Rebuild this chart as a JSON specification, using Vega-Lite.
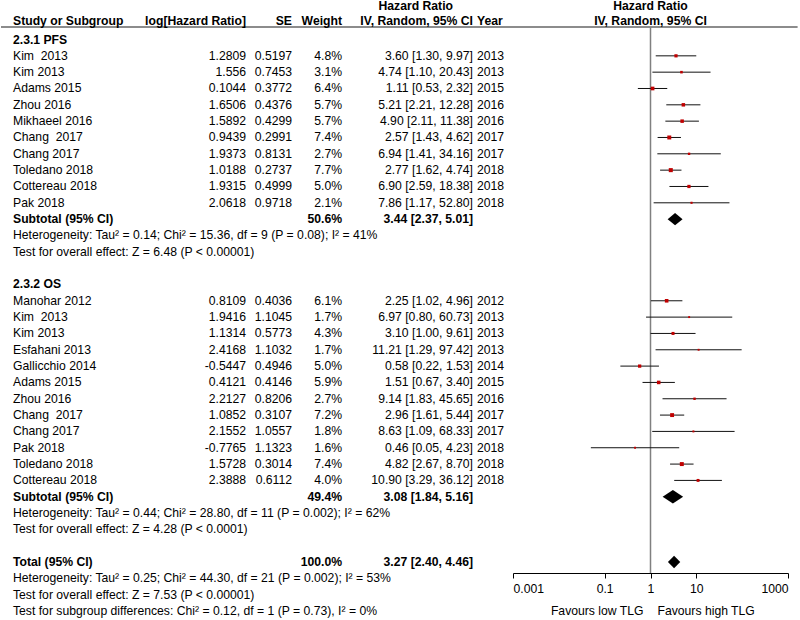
{
  "$schema": "https://vega.github.io/schema/vega-lite/v6.json",
  "background": "white",
  "padding": 0,
  "bounds": "flush",
  "spacing": 0,
  "config": {
    "view": {"stroke": null},
    "font": "Liberation Sans",
    "text": {"font": "Liberation Sans", "fontSize": 12.2, "color": "#000", "baseline": "middle"},
    "concat": {"spacing": 0}
  },
  "resolve": {"scale": {"x": "independent", "y": "independent"}},
  "datasets": {
    "rows": [
      {"row": 0, "kind": "group", "label": "2.3.1 PFS"},
      {"row": 1, "kind": "study", "label": "Kim \u00a02013", "loghr": 1.2809, "se": 0.5197, "weight": 0.048, "hr": 3.60, "lo": 1.30, "hi": 9.97, "ci": "3.60 [1.30, 9.97]", "year": 2013},
      {"row": 2, "kind": "study", "label": "Kim 2013", "loghr": 1.556, "se": 0.7453, "weight": 0.031, "hr": 4.74, "lo": 1.10, "hi": 20.43, "ci": "4.74 [1.10, 20.43]", "year": 2013},
      {"row": 3, "kind": "study", "label": "Adams 2015", "loghr": 0.1044, "se": 0.3772, "weight": 0.064, "hr": 1.11, "lo": 0.53, "hi": 2.32, "ci": "1.11 [0.53, 2.32]", "year": 2015},
      {"row": 4, "kind": "study", "label": "Zhou 2016", "loghr": 1.6506, "se": 0.4376, "weight": 0.057, "hr": 5.21, "lo": 2.21, "hi": 12.28, "ci": "5.21 [2.21, 12.28]", "year": 2016},
      {"row": 5, "kind": "study", "label": "Mikhaeel 2016", "loghr": 1.5892, "se": 0.4299, "weight": 0.057, "hr": 4.90, "lo": 2.11, "hi": 11.38, "ci": "4.90 [2.11, 11.38]", "year": 2016},
      {"row": 6, "kind": "study", "label": "Chang \u00a02017", "loghr": 0.9439, "se": 0.2991, "weight": 0.074, "hr": 2.57, "lo": 1.43, "hi": 4.62, "ci": "2.57 [1.43, 4.62]", "year": 2017},
      {"row": 7, "kind": "study", "label": "Chang 2017", "loghr": 1.9373, "se": 0.8131, "weight": 0.027, "hr": 6.94, "lo": 1.41, "hi": 34.16, "ci": "6.94 [1.41, 34.16]", "year": 2017},
      {"row": 8, "kind": "study", "label": "Toledano 2018", "loghr": 1.0188, "se": 0.2737, "weight": 0.077, "hr": 2.77, "lo": 1.62, "hi": 4.74, "ci": "2.77 [1.62, 4.74]", "year": 2018},
      {"row": 9, "kind": "study", "label": "Cottereau 2018", "loghr": 1.9315, "se": 0.4999, "weight": 0.050, "hr": 6.90, "lo": 2.59, "hi": 18.38, "ci": "6.90 [2.59, 18.38]", "year": 2018},
      {"row": 10, "kind": "study", "label": "Pak 2018", "loghr": 2.0618, "se": 0.9718, "weight": 0.021, "hr": 7.86, "lo": 1.17, "hi": 52.80, "ci": "7.86 [1.17, 52.80]", "year": 2018},
      {"row": 11, "kind": "subtotal", "label": "Subtotal (95% CI)", "weight": 0.506, "hr": 3.44, "lo": 2.37, "hi": 5.01, "ci": "3.44 [2.37, 5.01]"},
      {"row": 12, "kind": "note", "label": "Heterogeneity: Tau² = 0.14; Chi² = 15.36, df = 9 (P = 0.08); I² = 41%"},
      {"row": 13, "kind": "note", "label": "Test for overall effect: Z = 6.48 (P < 0.00001)"},
      {"row": 15, "kind": "group", "label": "2.3.2 OS"},
      {"row": 16, "kind": "study", "label": "Manohar 2012", "loghr": 0.8109, "se": 0.4036, "weight": 0.061, "hr": 2.25, "lo": 1.02, "hi": 4.96, "ci": "2.25 [1.02, 4.96]", "year": 2012},
      {"row": 17, "kind": "study", "label": "Kim \u00a02013", "loghr": 1.9416, "se": 1.1045, "weight": 0.017, "hr": 6.97, "lo": 0.80, "hi": 60.73, "ci": "6.97 [0.80, 60.73]", "year": 2013},
      {"row": 18, "kind": "study", "label": "Kim 2013", "loghr": 1.1314, "se": 0.5773, "weight": 0.043, "hr": 3.10, "lo": 1.00, "hi": 9.61, "ci": "3.10 [1.00, 9.61]", "year": 2013},
      {"row": 19, "kind": "study", "label": "Esfahani 2013", "loghr": 2.4168, "se": 1.1032, "weight": 0.017, "hr": 11.21, "lo": 1.29, "hi": 97.42, "ci": "11.21 [1.29, 97.42]", "year": 2013},
      {"row": 20, "kind": "study", "label": "Gallicchio 2014", "loghr": -0.5447, "se": 0.4946, "weight": 0.050, "hr": 0.58, "lo": 0.22, "hi": 1.53, "ci": "0.58 [0.22, 1.53]", "year": 2014},
      {"row": 21, "kind": "study", "label": "Adams 2015", "loghr": 0.4121, "se": 0.4146, "weight": 0.059, "hr": 1.51, "lo": 0.67, "hi": 3.40, "ci": "1.51 [0.67, 3.40]", "year": 2015},
      {"row": 22, "kind": "study", "label": "Zhou 2016", "loghr": 2.2127, "se": 0.8206, "weight": 0.027, "hr": 9.14, "lo": 1.83, "hi": 45.65, "ci": "9.14 [1.83, 45.65]", "year": 2016},
      {"row": 23, "kind": "study", "label": "Chang \u00a02017", "loghr": 1.0852, "se": 0.3107, "weight": 0.072, "hr": 2.96, "lo": 1.61, "hi": 5.44, "ci": "2.96 [1.61, 5.44]", "year": 2017},
      {"row": 24, "kind": "study", "label": "Chang 2017", "loghr": 2.1552, "se": 1.0557, "weight": 0.018, "hr": 8.63, "lo": 1.09, "hi": 68.33, "ci": "8.63 [1.09, 68.33]", "year": 2017},
      {"row": 25, "kind": "study", "label": "Pak 2018", "loghr": -0.7765, "se": 1.1323, "weight": 0.016, "hr": 0.46, "lo": 0.05, "hi": 4.23, "ci": "0.46 [0.05, 4.23]", "year": 2018},
      {"row": 26, "kind": "study", "label": "Toledano 2018", "loghr": 1.5728, "se": 0.3014, "weight": 0.074, "hr": 4.82, "lo": 2.67, "hi": 8.70, "ci": "4.82 [2.67, 8.70]", "year": 2018},
      {"row": 27, "kind": "study", "label": "Cottereau 2018", "loghr": 2.3888, "se": 0.6112, "weight": 0.040, "hr": 10.90, "lo": 3.29, "hi": 36.12, "ci": "10.90 [3.29, 36.12]", "year": 2018},
      {"row": 28, "kind": "subtotal", "label": "Subtotal (95% CI)", "weight": 0.494, "hr": 3.08, "lo": 1.84, "hi": 5.16, "ci": "3.08 [1.84, 5.16]"},
      {"row": 29, "kind": "note", "label": "Heterogeneity: Tau² = 0.44; Chi² = 28.80, df = 11 (P = 0.002); I² = 62%"},
      {"row": 30, "kind": "note", "label": "Test for overall effect: Z = 4.28 (P < 0.0001)"},
      {"row": 32, "kind": "subtotal", "label": "Total (95% CI)", "weight": 1.0, "hr": 3.27, "lo": 2.40, "hi": 4.46, "ci": "3.27 [2.40, 4.46]"},
      {"row": 33, "kind": "note", "label": "Heterogeneity: Tau² = 0.25; Chi² = 44.30, df = 21 (P = 0.002); I² = 53%"},
      {"row": 34, "kind": "note", "label": "Test for overall effect: Z = 7.53 (P < 0.00001)"},
      {"row": 35, "kind": "note", "label": "Test for subgroup differences: Chi² = 0.12, df = 1 (P = 0.73), I² = 0%"}
    ]
  },
  "hconcat": [
    {
      "width": 130, "height": 620,
      "data": {"name": "rows"},
      "encoding": {
        "y": {"field": "row", "type": "quantitative", "scale": {"domain": [-2.419, 35.548], "reverse": true, "nice": false, "zero": false}, "axis": null},
        "x": {"datum": 0, "type": "quantitative", "scale": {"domain": [0, 1], "nice": false, "zero": false}, "axis": null}
      },
      "layer": [
        {"transform": [{"filter": "datum.row === 0"}], "mark": {"type": "rule", "color": "#666", "strokeWidth": 1.5},
         "encoding": {"x": {"datum": 0, "type": "quantitative"}, "x2": {"datum": 1}, "y": {"datum": -0.77, "type": "quantitative"}}},
        {"transform": [{"filter": "datum.row === 0"}], "mark": {"type": "text", "align": "left", "dx": 12, "fontWeight": "bold", "text": "Study or Subgroup"},
         "encoding": {"y": {"datum": -1.13, "type": "quantitative"}}},
        {"transform": [{"filter": "datum.kind === 'study' || datum.kind === 'note'"}],
         "mark": {"type": "text", "align": "left", "dx": 12},
         "encoding": {"text": {"field": "label", "type": "nominal"}}},
        {"transform": [{"filter": "datum.kind === 'group' || datum.kind === 'subtotal'"}],
         "mark": {"type": "text", "align": "left", "dx": 12, "fontWeight": "bold"},
         "encoding": {"text": {"field": "label", "type": "nominal"}}}
      ]
    },
    {
      "width": 115, "height": 620,
      "data": {"name": "rows"},
      "encoding": {
        "y": {"field": "row", "type": "quantitative", "scale": {"domain": [-2.419, 35.548], "reverse": true, "nice": false, "zero": false}, "axis": null},
        "x": {"datum": 1, "type": "quantitative", "scale": {"domain": [0, 1], "nice": false, "zero": false}, "axis": null}
      },
      "layer": [
        {"transform": [{"filter": "datum.row === 0"}], "mark": {"type": "rule", "color": "#666", "strokeWidth": 1.5},
         "encoding": {"x": {"datum": 0, "type": "quantitative"}, "x2": {"datum": 1}, "y": {"datum": -0.77, "type": "quantitative"}}},
        {"transform": [{"filter": "datum.row === 0"}], "mark": {"type": "text", "align": "right", "fontWeight": "bold", "text": "log[Hazard Ratio]"},
         "encoding": {"y": {"datum": -1.13, "type": "quantitative"}}},
        {"transform": [{"filter": "datum.kind === 'study'"}],
         "mark": {"type": "text", "align": "right"},
         "encoding": {"text": {"field": "loghr", "type": "nominal"}}}
      ]
    },
    {
      "width": 46, "height": 620,
      "data": {"name": "rows"},
      "encoding": {
        "y": {"field": "row", "type": "quantitative", "scale": {"domain": [-2.419, 35.548], "reverse": true, "nice": false, "zero": false}, "axis": null},
        "x": {"datum": 1, "type": "quantitative", "scale": {"domain": [0, 1], "nice": false, "zero": false}, "axis": null}
      },
      "layer": [
        {"transform": [{"filter": "datum.row === 0"}], "mark": {"type": "rule", "color": "#666", "strokeWidth": 1.5},
         "encoding": {"x": {"datum": 0, "type": "quantitative"}, "x2": {"datum": 1}, "y": {"datum": -0.77, "type": "quantitative"}}},
        {"transform": [{"filter": "datum.row === 0"}], "mark": {"type": "text", "align": "right", "fontWeight": "bold", "text": "SE"},
         "encoding": {"y": {"datum": -1.13, "type": "quantitative"}}},
        {"transform": [{"filter": "datum.kind === 'study'"}],
         "mark": {"type": "text", "align": "right"},
         "encoding": {"text": {"field": "se", "type": "nominal"}}}
      ]
    },
    {
      "width": 50, "height": 620,
      "data": {"name": "rows"},
      "encoding": {
        "y": {"field": "row", "type": "quantitative", "scale": {"domain": [-2.419, 35.548], "reverse": true, "nice": false, "zero": false}, "axis": null},
        "x": {"datum": 1, "type": "quantitative", "scale": {"domain": [0, 1], "nice": false, "zero": false}, "axis": null}
      },
      "layer": [
        {"transform": [{"filter": "datum.row === 0"}], "mark": {"type": "rule", "color": "#666", "strokeWidth": 1.5},
         "encoding": {"x": {"datum": 0, "type": "quantitative"}, "x2": {"datum": 1}, "y": {"datum": -0.77, "type": "quantitative"}}},
        {"transform": [{"filter": "datum.row === 0"}], "mark": {"type": "text", "align": "right", "fontWeight": "bold", "text": "Weight"},
         "encoding": {"y": {"datum": -1.13, "type": "quantitative"}}},
        {"transform": [{"filter": "datum.kind === 'study'"}],
         "mark": {"type": "text", "align": "right"},
         "encoding": {"text": {"field": "weight", "type": "quantitative", "format": ".1%"}}},
        {"transform": [{"filter": "datum.kind === 'subtotal'"}],
         "mark": {"type": "text", "align": "right", "fontWeight": "bold"},
         "encoding": {"text": {"field": "weight", "type": "quantitative", "format": ".1%"}}}
      ]
    },
    {
      "width": 131, "height": 620,
      "data": {"name": "rows"},
      "encoding": {
        "y": {"field": "row", "type": "quantitative", "scale": {"domain": [-2.419, 35.548], "reverse": true, "nice": false, "zero": false}, "axis": null},
        "x": {"datum": 1, "type": "quantitative", "scale": {"domain": [0, 1], "nice": false, "zero": false}, "axis": null}
      },
      "layer": [
        {"transform": [{"filter": "datum.row === 0"}], "mark": {"type": "rule", "color": "#666", "strokeWidth": 1.5},
         "encoding": {"x": {"datum": 0, "type": "quantitative"}, "x2": {"datum": 1}, "y": {"datum": -0.77, "type": "quantitative"}}},
        {"transform": [{"filter": "datum.row === 0"}], "mark": {"type": "text", "align": "right", "dx": -20, "fontWeight": "bold", "text": "Hazard Ratio"},
         "encoding": {"y": {"datum": -2.03, "type": "quantitative"}}},
        {"transform": [{"filter": "datum.row === 0"}], "mark": {"type": "text", "align": "right", "fontWeight": "bold", "text": "IV, Random, 95% CI"},
         "encoding": {"y": {"datum": -1.13, "type": "quantitative"}}},
        {"transform": [{"filter": "datum.kind === 'study'"}],
         "mark": {"type": "text", "align": "right"},
         "encoding": {"text": {"field": "ci", "type": "nominal"}}},
        {"transform": [{"filter": "datum.kind === 'subtotal'"}],
         "mark": {"type": "text", "align": "right", "fontWeight": "bold"},
         "encoding": {"text": {"field": "ci", "type": "nominal"}}}
      ]
    },
    {
      "width": 40, "height": 620,
      "data": {"name": "rows"},
      "encoding": {
        "y": {"field": "row", "type": "quantitative", "scale": {"domain": [-2.419, 35.548], "reverse": true, "nice": false, "zero": false}, "axis": null},
        "x": {"datum": 0, "type": "quantitative", "scale": {"domain": [0, 1], "nice": false, "zero": false}, "axis": null}
      },
      "layer": [
        {"transform": [{"filter": "datum.row === 0"}], "mark": {"type": "rule", "color": "#666", "strokeWidth": 1.5},
         "encoding": {"x": {"datum": 0, "type": "quantitative"}, "x2": {"datum": 1}, "y": {"datum": -0.77, "type": "quantitative"}}},
        {"transform": [{"filter": "datum.row === 0"}], "mark": {"type": "text", "align": "left", "dx": 4, "fontWeight": "bold", "text": "Year"},
         "encoding": {"y": {"datum": -1.13, "type": "quantitative"}}},
        {"transform": [{"filter": "datum.kind === 'study'"}],
         "mark": {"type": "text", "align": "left", "dx": 4},
         "encoding": {"text": {"field": "year", "type": "nominal"}}}
      ]
    },
    {
      "width": 275, "height": 573,
      "data": {"name": "rows"},
      "encoding": {
        "y": {"field": "row", "type": "quantitative", "scale": {"domain": [-2.419, 32.67], "reverse": true, "nice": false, "zero": false}, "axis": null}
      },
      "layer": [
        {"transform": [{"filter": "datum.row === 0"}], "mark": {"type": "rule", "color": "#666", "strokeWidth": 1.5},
         "encoding": {
           "x": {"datum": 0.001, "type": "quantitative", "scale": {"type": "log", "domain": [0.001, 1000], "nice": false},
                 "axis": {"values": [0.001, 0.1, 1, 10, 1000], "format": "~g", "labelFlush": true, "labelFont": "Liberation Sans", "labelFontSize": 12.2, "labelColor": "#000", "labelPadding": 4, "domainColor": "#000", "domainWidth": 1, "tickColor": "#000", "tickSize": 5, "grid": false, "title": null}},
           "x2": {"datum": 1620},
           "y": {"datum": -0.77, "type": "quantitative"}}},
        {"transform": [{"filter": "datum.row === 0"}], "mark": {"type": "rule", "color": "#808080", "strokeWidth": 1.5},
         "encoding": {"x": {"datum": 1, "type": "quantitative"}, "y": {"datum": -0.77, "type": "quantitative"}, "y2": {"datum": 32.67}}},
        {"transform": [{"filter": "datum.row === 0"}], "mark": {"type": "text", "align": "center", "fontWeight": "bold", "text": "Hazard Ratio"},
         "encoding": {"x": {"datum": 1, "type": "quantitative"}, "y": {"datum": -2.03, "type": "quantitative"}}},
        {"transform": [{"filter": "datum.row === 0"}], "mark": {"type": "text", "align": "center", "fontWeight": "bold", "text": "IV, Random, 95% CI"},
         "encoding": {"x": {"datum": 1, "type": "quantitative"}, "y": {"datum": -1.13, "type": "quantitative"}}},
        {"transform": [{"filter": "datum.row === 0"}], "mark": {"type": "text", "align": "right", "dx": -7, "text": "Favours low TLG"},
         "encoding": {"x": {"datum": 1, "type": "quantitative"}, "y": {"datum": 35, "type": "quantitative"}}},
        {"transform": [{"filter": "datum.row === 0"}], "mark": {"type": "text", "align": "left", "dx": 7, "text": "Favours high TLG"},
         "encoding": {"x": {"datum": 1, "type": "quantitative"}, "y": {"datum": 35, "type": "quantitative"}}},
        {"transform": [{"filter": "datum.kind === 'study'"}],
         "mark": {"type": "rule", "color": "#111", "strokeWidth": 1},
         "encoding": {"x": {"field": "lo", "type": "quantitative"}, "x2": {"field": "hi"}}},
        {"transform": [{"filter": "datum.kind === 'study'"}],
         "mark": {"type": "point", "shape": "square", "filled": true, "color": "#c00000", "opacity": 1},
         "encoding": {"x": {"field": "hr", "type": "quantitative"},
                      "size": {"field": "weight", "type": "quantitative", "scale": {"domain": [0, 0.08], "range": [0, 17]}, "legend": null}}},
        {"transform": [{"filter": "datum.kind === 'subtotal'"}],
         "mark": {"type": "point", "filled": true, "color": "#000", "opacity": 1, "size": 4},
         "encoding": {"x": {"field": "hr", "type": "quantitative"},
                      "shape": {"field": "row", "type": "nominal", "scale": {"domain": [11, 28, 32], "range": ["M-7.45,0L0,-6.2L7.45,0L0,6.2Z", "M-10.26,0L0,-6.8L10.26,0L0,6.8Z", "M-6.16,0L0,-6.2L6.16,0L0,6.2Z"]}, "legend": null}}}
      ]
    }
  ]
}
